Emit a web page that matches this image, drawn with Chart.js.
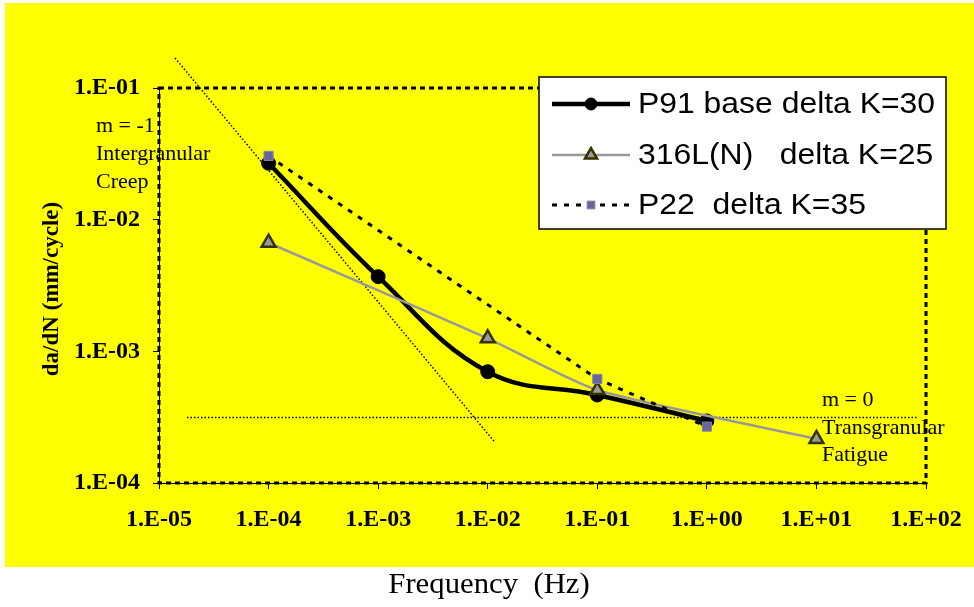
<!DOCTYPE html>
<html><head><meta charset="utf-8">
<script src="https://cdn.jsdelivr.net/npm/chart.js@4/dist/chart.umd.min.js"></script>
<style>html,body{margin:0;padding:0;background:#fff;} canvas{display:block;}</style>
</head><body>
<canvas id="c" width="974" height="607"></canvas>
<script>
// ---- data ----
const frequencies = [1e-4, 1e-3, 1e-2, 1e-1, 1e0, 1e1];
const p91 = [0.0268, 0.00369, 0.000700, 0.000466, 0.000296, null];
const ss316 = [0.00668, null, 0.001256, 0.000508, null, 0.000216];
const p22 = [0.0305, null, null, 0.000617, 0.000268, null];
const seriesNames = ['P91 base delta K=30', '316L(N)   delta K=25', 'P22  delta K=35'];
const creepLineX = [1.40e-5, 0.01146];
const creepLineY = [0.169, 2.07e-4];
const fatigueLineX = [1.8e-5, 83];
const fatigueLineY = [0.000315, 0.000315];
const xTickValues = [1e-5, 1e-4, 1e-3, 1e-2, 1e-1, 1e0, 1e1, 1e2];
const xTickLabels = ['1.E-05', '1.E-04', '1.E-03', '1.E-02', '1.E-01', '1.E+00', '1.E+01', '1.E+02'];
const yTickValues = [1e-4, 1e-3, 1e-2, 1e-1];
const yTickLabels = ['1.E-04', '1.E-03', '1.E-02', '1.E-01'];
const creepNote = ['m = -1', 'Intergranular', 'Creep'];
const fatigueNote = ['m = 0', 'Transgranular', 'Fatigue'];
const xTitle = 'Frequency  (Hz)';
const yTitle = 'da/dN (mm/cycle)';

const serif = "'Liberation Serif', 'Times New Roman', serif";
const sans = "'Liberation Sans', Arial, sans-serif";

function toPoints(xs, ys) {
  return xs.map((x, i) => ({x: x, y: ys[i]})).filter(p => p.y !== null);
}

const datasets = [
  {label: seriesNames[0], data: toPoints(frequencies, p91), borderColor: '#000', backgroundColor: '#000',
   borderWidth: 4.5, pointStyle: 'circle', pointRadius: 7, pointBorderWidth: 1, pointBorderColor: '#000',
   tension: 0.4, order: 3, legendRadius: 6},
  {label: seriesNames[1], data: toPoints(frequencies, ss316), borderColor: '#999999', backgroundColor: '#999999',
   borderWidth: 2.5, pointStyle: 'triangle', pointRadius: 8, pointBorderWidth: 2.5, pointBorderColor: '#333300',
   pointBackgroundColor: '#999999', tension: 0.2, order: 2, legendRadius: 7},
  {label: seriesNames[2], data: toPoints(frequencies, p22), borderColor: '#000', backgroundColor: '#666699',
   borderWidth: 3, borderDash: [5, 7], pointStyle: 'rect', pointRadius: 6.5, pointBorderWidth: 1,
   pointBorderColor: '#8585b5', pointBackgroundColor: '#666699', tension: 0, order: 1, legendRadius: 5.5},
  {label: 'creep', data: toPoints(creepLineX, creepLineY), borderColor: '#000', borderWidth: 1.5,
   borderDash: [1.5, 2], pointRadius: 0, clip: false, order: 5, tension: 0},
  {label: 'fatigue', data: toPoints(fatigueLineX, fatigueLineY), borderColor: '#000', borderWidth: 1.5,
   borderDash: [1.5, 2], pointRadius: 0, clip: false, order: 4, tension: 0}
];

const bgPlugin = {
  id: 'bg',
  beforeDraw(chart) {
    const ctx = chart.ctx;
    ctx.save();
    ctx.fillStyle = '#fff';
    ctx.fillRect(0, 0, chart.width, chart.height);
    ctx.fillStyle = '#FFFF00';
    ctx.fillRect(5, 3, 969, 564);
    ctx.restore();
  },
  beforeDatasetsDraw(chart) {
    const ctx = chart.ctx, a = chart.chartArea;
    ctx.save();
    ctx.strokeStyle = '#000';
    ctx.lineWidth = 3;
    ctx.setLineDash([5, 4]);
    ctx.strokeRect(a.left, a.top, a.right - a.left, a.bottom - a.top);
    ctx.restore();
  },
  afterDraw(chart) {
    const ctx = chart.ctx;
    ctx.save();
    // annotations
    ctx.fillStyle = '#000';
    ctx.font = '22px ' + serif;
    ctx.textAlign = 'left';
    ctx.textBaseline = 'alphabetic';
    creepNote.forEach((t, i) => ctx.fillText(t, 96, 132 + i * 28));
    fatigueNote.forEach((t, i) => ctx.fillText(t, 822, 406 + i * 27.5));
    // y title
    ctx.save();
    ctx.translate(52, 289);
    ctx.rotate(-Math.PI / 2);
    ctx.font = 'bold 23px ' + serif;
    ctx.textAlign = 'center';
    ctx.textBaseline = 'middle';
    ctx.fillText(yTitle, 0, 0);
    ctx.restore();
    // x title
    ctx.save();
    ctx.translate(489, 593);
    ctx.scale(1.06, 1);
    ctx.font = '29px ' + serif;
    ctx.textAlign = 'center';
    ctx.textBaseline = 'alphabetic';
    ctx.fillText(xTitle, 0, 0);
    ctx.restore();
    // legend
    const lx0 = 539, ly0 = 77, lx1 = 946, ly1 = 229;
    ctx.fillStyle = '#fff';
    ctx.fillRect(lx0, ly0, lx1 - lx0, ly1 - ly0);
    ctx.strokeStyle = '#000';
    ctx.lineWidth = 1.5;
    ctx.strokeRect(lx0, ly0, lx1 - lx0, ly1 - ly0);
    const rows = [104, 155, 205];
    for (let i = 0; i < 3; i++) {
      const ds = chart.data.datasets[i];
      const y = rows[i];
      ctx.save();
      ctx.strokeStyle = ds.borderColor;
      ctx.lineWidth = ds.borderWidth;
      ctx.setLineDash(ds.borderDash || []);
      ctx.beginPath();
      ctx.moveTo(552, y);
      ctx.lineTo(630, y);
      ctx.stroke();
      ctx.setLineDash([]);
      ctx.fillStyle = ds.pointBackgroundColor || ds.backgroundColor;
      ctx.strokeStyle = ds.pointBorderColor;
      ctx.lineWidth = ds.pointBorderWidth;
      Chart.helpers.drawPoint(ctx, {pointStyle: ds.pointStyle, radius: ds.legendRadius, rotation: 0, borderWidth: ds.pointBorderWidth}, 591, y);
      ctx.restore();
      ctx.save();
      ctx.translate(638, y + 1);
      ctx.scale(1.1, 1);
      ctx.fillStyle = '#000';
      ctx.font = '29px ' + sans;
      ctx.textAlign = 'left';
      ctx.textBaseline = 'middle';
      ctx.fillText(ds.label, 0, 0);
      ctx.restore();
    }
    ctx.restore();
  }
};

new Chart(document.getElementById('c'), {
  type: 'line',
  data: {datasets: datasets},
  plugins: [bgPlugin],
  options: {
    responsive: false,
    animation: false,
    devicePixelRatio: 1,
    spanGaps: true,
    layout: {padding: {top: 88, right: 48, left: 0, bottom: 0}},
    plugins: {legend: {display: false}, tooltip: {enabled: false}},
    scales: {
      x: {
        type: 'logarithmic', min: 1e-5, max: 1e2,
        afterFit(s) { s.height = 124; s.paddingRight = 0; s.paddingLeft = 0; },
        afterBuildTicks(s) { s.ticks = xTickValues.map(v => ({value: v})); },
        ticks: {
          autoSkip: false, maxRotation: 0, padding: 16, color: '#000',
          font: {family: serif, size: 24, weight: 'bold'},
          callback: (v, i) => xTickLabels[i]
        },
        grid: {display: true, drawOnChartArea: false, drawTicks: true, tickLength: 6, color: '#000', lineWidth: 1},
        border: {display: true, color: '#000', width: 1}
      },
      y: {
        type: 'logarithmic', min: 1e-4, max: 1e-1,
        afterFit(s) { s.width = 159; s.paddingTop = 0; s.paddingBottom = 0; },
        afterBuildTicks(s) { s.ticks = yTickValues.map(v => ({value: v})); },
        ticks: {
          autoSkip: false, padding: 13, color: '#000',
          font: {family: serif, size: 24, weight: 'bold'},
          callback: (v, i) => yTickLabels[i]
        },
        grid: {display: true, drawOnChartArea: false, drawTicks: true, tickLength: 6, color: '#000', lineWidth: 1},
        border: {display: true, color: '#000', width: 1}
      }
    }
  }
});
</script>
</body></html>
